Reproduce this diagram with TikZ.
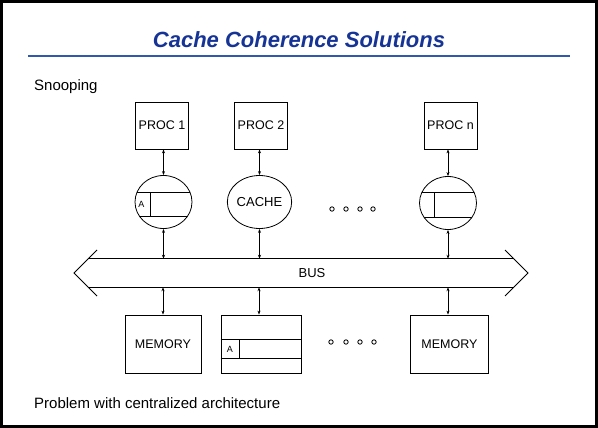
\documentclass[tikz,border=0pt]{standalone}
\usepackage{fontspec}
\setmainfont{Liberation Sans}
\usetikzlibrary{arrows.meta,shapes.geometric}
\definecolor{titleblue}{RGB}{22,52,150}
\definecolor{ruleblue}{RGB}{48,88,172}
\tikzset{
  box/.style={draw,line width=0.8pt,rectangle,inner sep=0pt,font=\fontsize{12.5}{14}\selectfont},
  cache/.style={draw,line width=0.8pt,ellipse,minimum width=57pt,minimum height=53pt,inner sep=0pt,font=\fontsize{13}{14}\selectfont},
  dbl/.style={line width=0.7pt,{Stealth[length=4pt,width=3pt]}-{Stealth[length=4pt,width=3pt]}},
  thin/.style={line width=0.8pt},
  dot/.style={line width=0.8pt},
  small/.style={font=\fontsize{9}{10}\selectfont,inner sep=0pt},
  body/.style={font=\fontsize{15}{18}\selectfont,anchor=west,inner sep=0pt}
}
\begin{document}
\begin{tikzpicture}[x=1pt,y=-1pt]
\useasboundingbox (0,0) rectangle (598,428);
\fill[white] (0,0) rectangle (598,428);
\draw[line width=3pt] (1.5,1.5) rectangle (596.5,426.5);
% title
\node[font=\fontsize{22}{26}\selectfont\bfseries\itshape,text=titleblue] (title) at (299,40) {Cache Coherence Solutions};
\draw[ruleblue,line width=2.2pt] (28,56) -- (570,56);
\node[body] (snoop) at (34,87) {Snooping};
\node[body] (problem) at (34,403) {Problem with centralized architecture};
% processors
\node[box,minimum width=53pt,minimum height=47pt] (p1) at (162,125.5) {PROC 1};
\node[box,minimum width=53pt,minimum height=47pt] (p2) at (261,125.5) {PROC 2};
\node[box,minimum width=53pt,minimum height=47pt] (pn) at (450.5,125.5) {PROC n};
% caches
\node[cache] (c1) at (163.5,202) {};
\node[cache] (c2) at (259.5,202) {CACHE};
\node[cache] (cn) at (448,203) {};
\begin{scope}
  \clip (c1.center) ellipse [x radius=28.5, y radius=26.5];
  \draw[thin] (120,192) -- (200,192);
  \draw[thin] (120,216) -- (200,216);
\end{scope}
\draw[thin] (150,192) -- (150,216);
\node[small] (a1) at (141.5,204) {A};
\begin{scope}
  \clip (cn.center) ellipse [x radius=28.5, y radius=26.5];
  \draw[thin] (400,192) -- (500,192);
  \draw[thin] (400,217) -- (500,217);
\end{scope}
\draw[thin] (434,192) -- (434,217);
% dots
\foreach \x in {332,346,360,373} \draw[dot] (\x,209) circle (2.2);
\foreach \x in {331,346,360,374} \draw[dot] (\x,342) circle (2.2);
% bus
\node[minimum width=426pt,minimum height=28pt,inner sep=0pt] (bus) at (301,273) {};
\draw[thin] (bus.north west) -- (bus.north east);
\draw[thin] (bus.south west) -- (bus.south east);
\draw[thin] (97,250) -- (74,273) -- (97,296);
\draw[thin] (505,250) -- (528,273) -- (505,296);
\node[font=\fontsize{13}{15}\selectfont] (buslbl) at (312,273) {BUS};
% memories
\node[box,minimum width=76pt,minimum height=58pt] (m1) at (163,344) {MEMORY};
\node[box,minimum width=80pt,minimum height=58pt] (m2) at (261,344) {};
\node[box,minimum width=78pt,minimum height=58pt] (mn) at (449.5,344) {MEMORY};
\draw[thin] (m2.west |- 0,339) -- (m2.east |- 0,339);
\draw[thin] (m2.west |- 0,358) -- (m2.east |- 0,358);
\draw[thin] (239,339) -- (239,358);
\node[small] (a2) at (230,349) {A};
% connectors
\draw[dbl] (c1.north) -- (c1.north |- p1.south);
\draw[dbl] (c2.north) -- (c2.north |- p2.south);
\draw[dbl] (cn.north) -- (cn.north |- pn.south);
\draw[dbl] (c1.south) -- (c1.south |- bus.north);
\draw[dbl] (c2.south) -- (c2.south |- bus.north);
\draw[dbl] (cn.south) -- (cn.south |- bus.north);
\draw[dbl] (m1.north) -- (m1.north |- bus.south);
\draw[dbl] ([xshift=-2pt]m2.north) -- ([xshift=-2pt]m2.north |- bus.south);
\draw[dbl] ([xshift=-1.5pt]mn.north) -- ([xshift=-1.5pt]mn.north |- bus.south);
\end{tikzpicture}
\end{document}
